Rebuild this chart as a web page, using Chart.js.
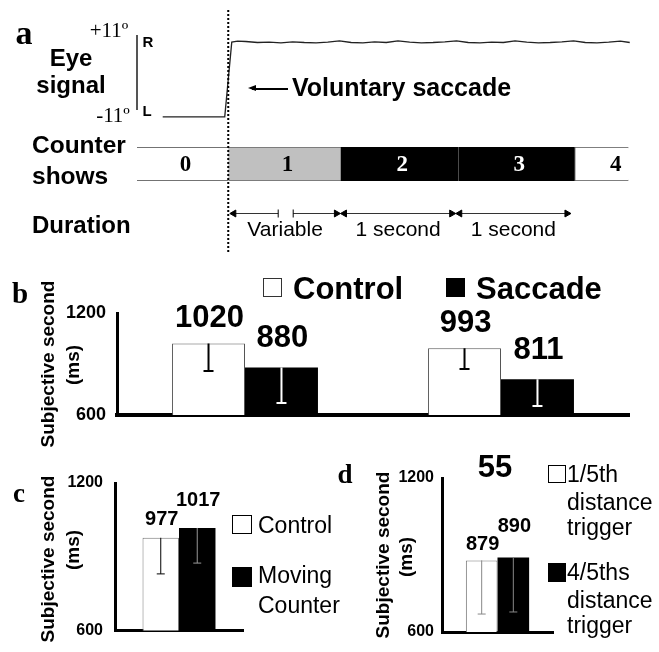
<!DOCTYPE html>
<html>
<head>
<meta charset="utf-8">
<script src="https://cdn.jsdelivr.net/npm/chart.js@4.4.1/dist/chart.umd.min.js"></script>
<style>
  body { margin: 0; background: #fff; }
  #fig { position: relative; width: 659px; height: 652px; overflow: hidden; background: #fff;
         font-family: "Liberation Sans", Arial, sans-serif; color: #000; }
  #fig canvas { position: absolute; }
  .t { position: absolute; white-space: nowrap; line-height: 1; transform: translate(-50%, -50%); }
  .l { position: absolute; white-space: nowrap; line-height: 1; transform: translateY(-50%); }
  .vt { position: absolute; white-space: nowrap; line-height: 1; font-weight: bold; font-size: 19px;
        transform: translate(-50%, -50%) rotate(-90deg); }
  .serif { font-family: "Liberation Serif", "Times New Roman", serif; }
  .b { font-weight: bold; }
  .sq { position: absolute; box-sizing: border-box; }
</style>
</head>
<body>
<div id="fig">
  <canvas id="trace" width="659" height="95" style="left:0;top:32px"></canvas>
  <canvas id="counter" width="659" height="34" style="left:0;top:147px"></canvas>
  <canvas id="duration" width="659" height="44" style="left:0;top:200px"></canvas>
  <canvas id="guide" width="659" height="244" style="left:0;top:8px"></canvas>
  <canvas id="chartB" width="659" height="160" style="left:0;top:280px"></canvas>
  <canvas id="chartC" width="220" height="192" style="left:40px;top:460px"></canvas>
  <canvas id="chartD" width="200" height="207" style="left:380px;top:445px"></canvas>

  <!-- panel a -->
  <div class="t serif b" style="left:24px;top:33px;font-size:34px">a</div>
  <div class="t serif" style="left:109px;top:30px;font-size:21px">+11º</div>
  <div class="t serif" style="left:113px;top:115px;font-size:21px">-11º</div>
  <div class="sq" style="left:136px;top:35px;width:2px;height:75px;background:#555"></div>
  <div class="t b" style="left:148px;top:41px;font-size:15px">R</div>
  <div class="t b" style="left:147px;top:110px;font-size:15px">L</div>
  <div class="t b" style="left:71px;top:58px;font-size:24px">Eye</div>
  <div class="t b" style="left:71px;top:85px;font-size:24px">signal</div>
  <div class="sq" style="left:252px;top:88px;width:36px;height:1.5px;background:#000"></div>
  <div class="sq" style="left:248px;top:85px;width:0;height:0;border-right:8px solid #000;border-top:3.5px solid transparent;border-bottom:3.5px solid transparent"></div>
  <div class="l b" style="left:292px;top:87px;font-size:25px">Voluntary saccade</div>
  <div class="l b" style="left:32px;top:145px;font-size:24.5px">Counter</div>
  <div class="l b" style="left:32px;top:176px;font-size:24.5px">shows</div>
  <div class="l b" style="left:32px;top:225px;font-size:24px">Duration</div>

  <!-- panel b -->
  <div class="t serif b" style="left:20px;top:293px;font-size:29px">b</div>
  <div class="vt" style="left:47px;top:364px">Subjective second</div>
  <div class="vt" style="left:72px;top:365px">(ms)</div>
  <div class="sq" style="left:263px;top:278px;width:19px;height:19px;border:1px solid #333;background:#fff"></div>
  <div class="l b" style="left:293px;top:288px;font-size:31px">Control</div>
  <div class="sq" style="left:446px;top:278px;width:19px;height:19px;background:#000"></div>
  <div class="l b" style="left:476px;top:288px;font-size:31px">Saccade</div>

  <!-- panel c -->
  <div class="t serif b" style="left:19px;top:493px;font-size:27px">c</div>
  <div class="vt" style="left:47px;top:559px">Subjective second</div>
  <div class="vt" style="left:72px;top:550px">(ms)</div>
  <div class="sq" style="left:232px;top:515px;width:20px;height:19px;border:1.5px solid #000;background:#fff"></div>
  <div class="l" style="left:258px;top:525px;font-size:23px">Control</div>
  <div class="sq" style="left:232px;top:567px;width:20px;height:20px;background:#000"></div>
  <div class="l" style="left:258px;top:575px;font-size:23px">Moving</div>
  <div class="l" style="left:258px;top:605px;font-size:23px">Counter</div>

  <!-- panel d -->
  <div class="t serif b" style="left:345px;top:474px;font-size:27px">d</div>
  <div class="vt" style="left:382px;top:555px">Subjective second</div>
  <div class="vt" style="left:405px;top:557px">(ms)</div>
  <div class="t b" style="left:495px;top:466px;font-size:31px">55</div>
  <div class="sq" style="left:548px;top:465px;width:18px;height:18px;border:1.5px solid #000;background:#fff"></div>
  <div class="l" style="left:567px;top:474px;font-size:23px">1/5th</div>
  <div class="l" style="left:567px;top:502px;font-size:23px">distance</div>
  <div class="l" style="left:567px;top:527px;font-size:23px">trigger</div>
  <div class="sq" style="left:548px;top:563px;width:18px;height:19px;background:#000"></div>
  <div class="l" style="left:567px;top:572px;font-size:23px">4/5ths</div>
  <div class="l" style="left:567px;top:600px;font-size:23px">distance</div>
  <div class="l" style="left:567px;top:625px;font-size:23px">trigger</div>
</div>

<script>
// ---- panel a data (time in seconds from saccade onset) ----
const traceTime = [-0.56, -0.03, 0.03, 0.08, 0.15, 0.25, 0.35, 0.45, 0.55, 0.65, 0.75, 0.85, 0.95,
  1.05, 1.15, 1.25, 1.35, 1.45, 1.55, 1.65, 1.75, 1.85, 1.95, 2.05, 2.15, 2.25, 2.35, 2.45,
  2.55, 2.65, 2.75, 2.85, 2.95, 3.05, 3.15, 3.25, 3.35, 3.43];
const traceDeg = [-11, -11, 11.0, 11.3, 11.2, 10.9, 11.0, 10.8, 11.1, 10.9, 10.8, 11.0, 11.4,
  10.9, 10.8, 11.1, 10.9, 11.4, 11.0, 10.8, 10.9, 11.1, 11.4, 10.9, 10.8, 11.0, 10.9, 11.4,
  11.0, 10.8, 10.9, 11.1, 11.4, 10.9, 10.8, 11.0, 11.3, 10.9];
const saccadeOnset = 0;
const counterDigits = ['0', '1', '2', '3', '4'];
const counterStart = [-0.78, 0, 0.96, 1.96, 2.96];
const counterEnd = [0, 0.96, 1.96, 2.96, 3.42];
const durationLabels = ['Variable', '1 second', '1 second'];
const variableBreak = [0.42, 0.55];

// ---- panels b, c, d data (ms) ----
const yTicks = [600, 1200];
const groupsB = ['Experiment 1', 'Experiment 2'];
const controlB = [1020, 993];
const controlErrB = [161, 123];
const saccadeB = [880, 811];
const saccadeErrB = [209, 158];
const groupsC = ['Moving counter'];
const controlC = [977];
const controlErrC = [147];
const movingC = [1017];
const movingErrC = [143];
const groupsD = ['Distance trigger'];
const fifthD = [879];
const fifthErrD = [209];
const fourFifthsD = [890];
const fourFifthsErrD = [212];

Chart.defaults.font.family = '"Liberation Sans", Arial, sans-serif';
Chart.defaults.color = '#000';
Chart.defaults.animation = false;
Chart.defaults.responsive = false;
Chart.defaults.plugins.legend.display = false;
Chart.defaults.plugins.tooltip.enabled = false;

const T_MIN = -1.95, T_MAX = 3.68;
const timeAxis = { type: 'linear', min: T_MIN, max: T_MAX, display: false };

// eye trace
new Chart(document.getElementById('trace'), {
  type: 'line',
  data: {
    datasets: [{
      label: 'Eye signal',
      data: traceTime.map((t, i) => ({ x: t, y: traceDeg[i] })),
      borderColor: '#222',
      borderWidth: 1.3,
      pointRadius: 0,
      tension: 0
    }]
  },
  options: {
    layout: { padding: 0 },
    scales: { x: timeAxis, y: { min: -14, max: 14, display: false } }
  }
});

// counter boxes
const counterFill = ['#fff', '#c0c0c0', '#000', '#000', '#fff'];
const counterEdge = ['#444', '#666', '#000', '#ddd', '#555'];
const counterBorder = [
  { top: 1, bottom: 1, left: 0, right: 0 },
  { top: 1, bottom: 1, left: 0, right: 0 },
  0,
  { top: 0, bottom: 0, left: 1, right: 0 },
  { top: 1, bottom: 1, left: 1, right: 0 }
];
const counterInk = ['#000', '#000', '#fff', '#fff', '#000'];

const digitPlugin = {
  id: 'digits',
  afterDatasetsDraw(chart, args, opts) {
    const ctx = chart.ctx;
    ctx.save();
    ctx.font = 'bold 23px "Liberation Serif", "Times New Roman", serif';
    ctx.textAlign = 'center';
    ctx.textBaseline = 'middle';
    chart.data.datasets.forEach((ds, i) => {
      const p = chart.getDatasetMeta(i).data[0].getCenterPoint();
      ctx.fillStyle = counterInk[i];
      ctx.fillText(ds.label, p.x + opts.nudge[i], p.y + 1);
    });
    ctx.restore();
  }
};

new Chart(document.getElementById('counter'), {
  type: 'bar',
  data: {
    labels: ['Counter shows'],
    datasets: counterDigits.map((d, i) => ({
      label: d,
      data: [[counterStart[i], counterEnd[i]]],
      backgroundColor: counterFill[i],
      borderColor: counterEdge[i],
      borderWidth: counterBorder[i],
      borderSkipped: false,
      grouped: false,
      categoryPercentage: 1,
      barPercentage: 1
    }))
  },
  options: {
    indexAxis: 'y',
    layout: { padding: 0 },
    scales: { x: timeAxis, y: { display: false } },
    plugins: { digits: { nudge: [3, 3, 3, 3, 14] } }
  },
  plugins: [digitPlugin]
});

// duration arrows
const ARROW_INSET = 0.035;
const durStart = counterStart.slice(1, 4);
const durEnd = counterEnd.slice(1, 4);
const arrowSegs = [
  { from: durStart[0] + ARROW_INSET, to: variableBreak[0], style: ['triangle', 'line'], rot: [-90, 90] },
  { from: variableBreak[1], to: durEnd[0] - ARROW_INSET, style: ['line', 'triangle'], rot: [90, 90] },
  { from: durStart[1] + ARROW_INSET, to: durEnd[1] - ARROW_INSET, style: ['triangle', 'triangle'], rot: [-90, 90] },
  { from: durStart[2] + ARROW_INSET, to: durEnd[2] - ARROW_INSET, style: ['triangle', 'triangle'], rot: [-90, 90] }
];

const durationText = {
  id: 'durText',
  afterDatasetsDraw(chart) {
    const ctx = chart.ctx;
    const xs = chart.scales.x, ys = chart.scales.y;
    ctx.save();
    ctx.font = '21px "Liberation Sans", Arial, sans-serif';
    ctx.fillStyle = '#000';
    ctx.textAlign = 'center';
    ctx.textBaseline = 'middle';
    durationLabels.forEach((txt, i) => {
      ctx.fillText(txt, xs.getPixelForValue((durStart[i] + durEnd[i]) / 2), ys.getPixelForValue(-2));
    });
    ctx.restore();
  }
};

new Chart(document.getElementById('duration'), {
  type: 'line',
  data: {
    datasets: arrowSegs.map(s => ({
      data: [{ x: s.from, y: 0 }, { x: s.to, y: 0 }],
      borderColor: '#333',
      borderWidth: 1,
      pointStyle: s.style,
      pointRotation: s.rot,
      pointRadius: 4,
      pointBorderWidth: 1,
      pointBackgroundColor: '#000',
      pointBorderColor: '#000',
      clip: false
    }))
  },
  options: {
    layout: { padding: 0 },
    scales: { x: timeAxis, y: { min: -3, max: 1, display: false } }
  },
  plugins: [durationText]
});

// dotted saccade-onset line
new Chart(document.getElementById('guide'), {
  type: 'line',
  data: {
    datasets: [{
      data: [{ x: saccadeOnset, y: 0 }, { x: saccadeOnset, y: 1 }],
      borderColor: '#000',
      borderWidth: 2,
      borderDash: [2, 2],
      pointRadius: 0,
      clip: false
    }]
  },
  options: {
    layout: { padding: 0 },
    scales: { x: timeAxis, y: { min: 0, max: 1, display: false } }
  }
});

// ---- bar panels ----
const barExtras = {
  id: 'barExtras',
  afterDatasetsDraw(chart, args, opts) {
    const ctx = chart.ctx;
    const ys = chart.scales.y;
    chart.data.datasets.forEach((ds, i) => {
      chart.getDatasetMeta(i).data.forEach((bar, j) => {
        const low = ys.getPixelForValue(ds.data[j] - ds.errors[j]);
        ctx.save();
        ctx.strokeStyle = opts.errColor[i];
        ctx.lineWidth = opts.errWidth;
        ctx.beginPath();
        ctx.moveTo(bar.x, bar.y);
        ctx.lineTo(bar.x, low);
        ctx.moveTo(bar.x - opts.cap, low);
        ctx.lineTo(bar.x + opts.cap, low);
        ctx.stroke();
        ctx.fillStyle = '#000';
        ctx.font = opts.font;
        ctx.textAlign = 'center';
        ctx.textBaseline = 'middle';
        ctx.fillText(String(ds.data[j]), bar.x + 1, bar.y - opts.lift[i]);
        ctx.restore();
      });
    });
  }
};

function makeBars(id, labels, datasets, o) {
  return new Chart(document.getElementById(id), {
    type: 'bar',
    data: { labels, datasets },
    options: {
      layout: { padding: o.pad },
      datasets: { bar: { categoryPercentage: 0.57, barPercentage: 1 } },
      plugins: { barExtras: o.extras },
      scales: {
        x: {
          grid: { display: false, drawTicks: false },
          ticks: { display: false },
          border: { color: '#000', width: o.xBorder },
          afterFit: s => { s.height = 0; },
          z: 1
        },
        y: {
          min: 600,
          max: 1200,
          afterBuildTicks: s => { s.ticks = yTicks.map(v => ({ value: v })); },
          grid: { display: false, drawTicks: false },
          border: { color: '#000', width: 3 },
          ticks: {
            font: { size: o.tickSize, weight: 'bold' },
            color: '#000',
            padding: o.tickPad,
            callback: v => String(v)
          },
          afterFit: s => { s.width = 50; }
        }
      }
    },
    plugins: [barExtras]
  });
}

makeBars('chartB', groupsB, [
  { label: 'Control', data: controlB, errors: controlErrB, backgroundColor: '#fff', borderColor: '#555', borderWidth: 1 },
  { label: 'Saccade', data: saccadeB, errors: saccadeErrB, backgroundColor: '#000', borderWidth: 0 }
], {
  pad: { left: 67, right: 30, top: 33, bottom: 25 },
  xBorder: 4, tickSize: 18, tickPad: 11,
  extras: { errColor: ['#000', '#fff'], errWidth: 2, cap: 5, font: 'bold 31px "Liberation Sans", Arial, sans-serif', lift: [25, 29] }
});

makeBars('chartC', groupsC, [
  { label: 'Control', data: controlC, errors: controlErrC, backgroundColor: '#fff', borderColor: '#777', borderWidth: 1 },
  { label: 'Moving Counter', data: movingC, errors: movingErrC, backgroundColor: '#000', borderWidth: 0 }
], {
  pad: { left: 25, right: 17, top: 23, bottom: 18 },
  xBorder: 3, tickSize: 16, tickPad: 12,
  extras: { errColor: ['#000', '#999'], errWidth: 1, cap: 4, font: 'bold 20px "Liberation Sans", Arial, sans-serif', lift: [18, 27] }
});

makeBars('chartD', groupsD, [
  { label: '1/5th distance trigger', data: fifthD, errors: fifthErrD, backgroundColor: '#fff', borderColor: '#777', borderWidth: 1 },
  { label: '4/5ths distance trigger', data: fourFifthsD, errors: fourFifthsErrD, backgroundColor: '#000', borderWidth: 0 }
], {
  pad: { left: 12, right: 27, top: 33, bottom: 20 },
  xBorder: 3, tickSize: 16, tickPad: 8,
  extras: { errColor: ['#888', '#888'], errWidth: 1, cap: 4, font: 'bold 20px "Liberation Sans", Arial, sans-serif', lift: [16, 31] }
});
</script>
</body>
</html>
